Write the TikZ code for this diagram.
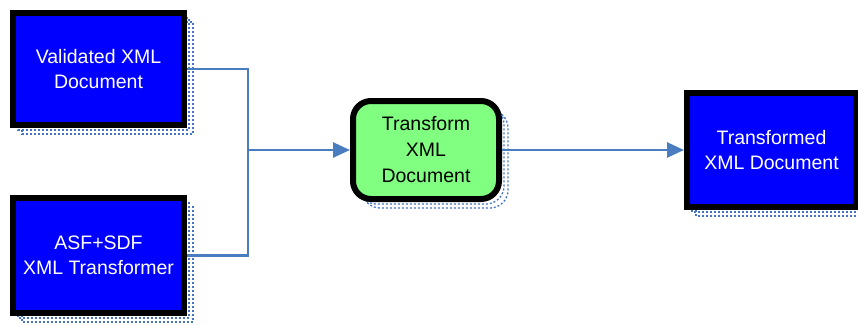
\documentclass[tikz,border=0pt]{standalone}
\usepackage{fontspec}
\setmainfont{Liberation Sans}
\usetikzlibrary{arrows.meta}
\definecolor{boxblue}{HTML}{0000FF}
\definecolor{procgreen}{HTML}{80FF80}
\definecolor{linkblue}{HTML}{4A7CC0}
\definecolor{shadeblue}{HTML}{4472C4}
\tikzset{
  databox/.style={draw=black, line width=6pt, fill=boxblue, text=white,
    align=center, font=\fontsize{19.5}{25}\selectfont, inner sep=0pt},
  procbox/.style={draw=black, line width=6pt, fill=procgreen, text=black,
    rounded corners=18pt, align=center, font=\fontsize{19.5}{26}\selectfont, inner sep=0pt},
  shade/.style={draw=shadeblue, line width=1.3pt, dash pattern=on 2pt off 2pt},
  link/.style={draw=linkblue, line width=2.6pt},
  linkarrow/.style={link, -{Triangle[length=17pt,width=15pt]}}
}
\begin{document}
\begin{tikzpicture}[x=1pt,y=-1pt]
\useasboundingbox (0,0) rectangle (858,325);

% dotted drop shadows behind the boxes
\foreach \d in {5,9} {
  \draw[shade] (13+\d,13+\d) rectangle (184+\d,125+\d);
  \draw[shade] (13+\d,198+\d) rectangle (184+\d,313+\d);
  \draw[shade, rounded corners=18pt] (353+\d,101+\d) rectangle (499+\d,199+\d);
  \draw[shade] (687+\d,93+\d) rectangle (856+\d,207+\d);
}

% boxes
\node[databox, minimum width=171pt, minimum height=112pt] (valid) at (98.5,69)
  {Validated XML\\Document};
\node[databox, minimum width=171pt, minimum height=115pt] (asf) at (98.5,255.5)
  {ASF+SDF\\XML Transformer};
\node[procbox, minimum width=146pt, minimum height=98pt] (transform) at (426,150)
  {Transform\\XML\\Document};
\node[databox, minimum width=169pt, minimum height=114pt] (result) at (771.5,150)
  {Transformed\\XML Document};

% connectors: the two inputs merge before entering the transform step
\coordinate (join) at (248,150);
\draw[link] (valid.east) -| (join);
\draw[link] (asf.east) -| (join);
\draw[linkarrow] (join) -- (transform.west);
\draw[linkarrow] (transform.east) -- (result.west);
\end{tikzpicture}
\end{document}
